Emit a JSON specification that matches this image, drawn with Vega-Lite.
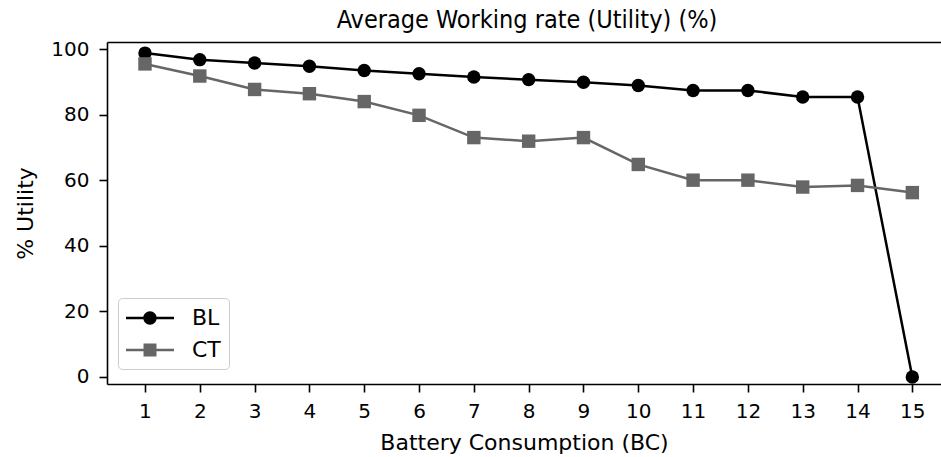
{
  "$schema": "https://vega.github.io/schema/vega-lite/v6.json",
  "width": 834,
  "height": 342,
  "autosize": {"type": "none"},
  "padding": {"left": 107, "top": 42, "right": 0, "bottom": 73},
  "background": "white",
  "config": {
    "view": {"stroke": null},
    "font": "DejaVu Sans",
    "axis": {
      "domainColor": "black", "domainWidth": 1.6,
      "tickColor": "black", "tickWidth": 1.6, "tickSize": 8,
      "labelFont": "DejaVu Sans", "labelFontSize": 20, "labelColor": "black",
      "titleFont": "DejaVu Sans", "titleFontSize": 22, "titleColor": "black", "titleFontWeight": "normal",
      "grid": false, "labelFlush": false, "labelOverlap": false
    },
    "legend": {
      "orient": "none",
      "legendX": 11,
      "legendY": 256,
      "padding": 8,
      "rowPadding": 9,
      "labelFont": "DejaVu Sans",
      "labelFontSize": 22,
      "labelColor": "black",
      "labelOffset": 42,
      "symbolSize": 576,
      "symbolStrokeWidth": 0,
      "symbolOpacity": 1,
      "strokeColor": "#cccccc",
      "fillColor": "rgba(255,255,255,0.8)",
      "cornerRadius": 4
    }
  },
  "title": {
    "text": "Average Working rate (Utility) (%)",
    "font": "DejaVu Sans Condensed",
    "fontSize": 25,
    "fontWeight": "normal",
    "color": "black",
    "anchor": "middle",
    "baseline": "alphabetic",
    "offset": -14,
    "dx": 3
  },
  "data": {
    "values": [
      {"bc": 1, "series": "BL", "utility": 98.9},
      {"bc": 2, "series": "BL", "utility": 96.9},
      {"bc": 3, "series": "BL", "utility": 95.9},
      {"bc": 4, "series": "BL", "utility": 94.9},
      {"bc": 5, "series": "BL", "utility": 93.6},
      {"bc": 6, "series": "BL", "utility": 92.6},
      {"bc": 7, "series": "BL", "utility": 91.6},
      {"bc": 8, "series": "BL", "utility": 90.8},
      {"bc": 9, "series": "BL", "utility": 90.0},
      {"bc": 10, "series": "BL", "utility": 89.0},
      {"bc": 11, "series": "BL", "utility": 87.5},
      {"bc": 12, "series": "BL", "utility": 87.5},
      {"bc": 13, "series": "BL", "utility": 85.5},
      {"bc": 14, "series": "BL", "utility": 85.5},
      {"bc": 15, "series": "BL", "utility": 0},
      {"bc": 1, "series": "CT", "utility": 95.6},
      {"bc": 2, "series": "CT", "utility": 91.9},
      {"bc": 3, "series": "CT", "utility": 87.8},
      {"bc": 4, "series": "CT", "utility": 86.5},
      {"bc": 5, "series": "CT", "utility": 84.1},
      {"bc": 6, "series": "CT", "utility": 79.9},
      {"bc": 7, "series": "CT", "utility": 73.1},
      {"bc": 8, "series": "CT", "utility": 72.0},
      {"bc": 9, "series": "CT", "utility": 73.1},
      {"bc": 10, "series": "CT", "utility": 64.9},
      {"bc": 11, "series": "CT", "utility": 60.1},
      {"bc": 12, "series": "CT", "utility": 60.1},
      {"bc": 13, "series": "CT", "utility": 58.0},
      {"bc": 14, "series": "CT", "utility": 58.5},
      {"bc": 15, "series": "CT", "utility": 56.3}
    ]
  },
  "layer": [
    {
      "mark": {"type": "line", "strokeWidth": 2.5},
      "encoding": {
        "x": {
          "field": "bc", "type": "quantitative",
          "scale": {"domain": [0.307, 15.523], "nice": false, "zero": false},
          "axis": {
            "orient": "bottom",
            "values": [1, 2, 3, 4, 5, 6, 7, 8, 9, 10, 11, 12, 13, 14, 15],
            "format": "d",
            "title": "Battery Consumption (BC)",
            "labelPadding": 9,
            "titlePadding": 11
          }
        },
        "y": {
          "field": "utility", "type": "quantitative",
          "scale": {"domain": [-2.14, 102.29], "nice": false, "zero": false},
          "axis": {
            "values": [0, 20, 40, 60, 80, 100],
            "title": "% Utility",
            "labelPadding": 10,
            "titlePadding": 13
          }
        },
        "color": {
          "field": "series", "type": "nominal",
          "scale": {"domain": ["BL", "CT"], "range": ["#000000", "#666666"]},
          "legend": {"title": null}
        }
      }
    },
    {
      "transform": [{"filter": "datum.series === 'BL'"}],
      "mark": {"type": "point", "shape": "circle", "filled": true, "size": 180, "opacity": 1},
      "encoding": {
        "x": {
          "field": "bc", "type": "quantitative",
          "axis": {
            "orient": "top",
            "labels": false, "ticks": false, "title": null,
            "domain": true
          }
        },
        "y": {"field": "utility", "type": "quantitative"},
        "color": {"field": "series", "type": "nominal", "legend": {"title": null}}
      }
    },
    {
      "transform": [{"filter": "datum.series === 'CT'"}],
      "mark": {"type": "point", "shape": "square", "filled": true, "size": 180, "opacity": 1},
      "encoding": {
        "x": {"field": "bc", "type": "quantitative", "axis": null},
        "y": {"field": "utility", "type": "quantitative"},
        "color": {"field": "series", "type": "nominal", "legend": {"title": null}}
      }
    },
    {
      "mark": {"type": "point", "filled": true, "opacity": 0},
      "encoding": {
        "x": {"field": "bc", "type": "quantitative", "axis": null},
        "y": {"field": "utility", "type": "quantitative"},
        "color": {"field": "series", "type": "nominal", "legend": {"title": null}},
        "shape": {
          "field": "series", "type": "nominal",
          "scale": {
            "domain": ["BL", "CT"],
            "range": [
              "M-1,-0.104H0.5V0.104H-1Z M1.5,-0.104H3V0.104H1.5Z M1.56,0A0.56,0.56,0,1,1,0.44,0A0.56,0.56,0,1,1,1.56,0Z",
              "M-1,-0.104H0.46V0.104H-1Z M1.54,-0.104H3V0.104H1.54Z M0.46,-0.54H1.54V0.54H0.46Z"
            ]
          },
          "legend": {"title": null}
        }
      }
    }
  ],
  "resolve": {"axis": {"x": "independent"}}
}
